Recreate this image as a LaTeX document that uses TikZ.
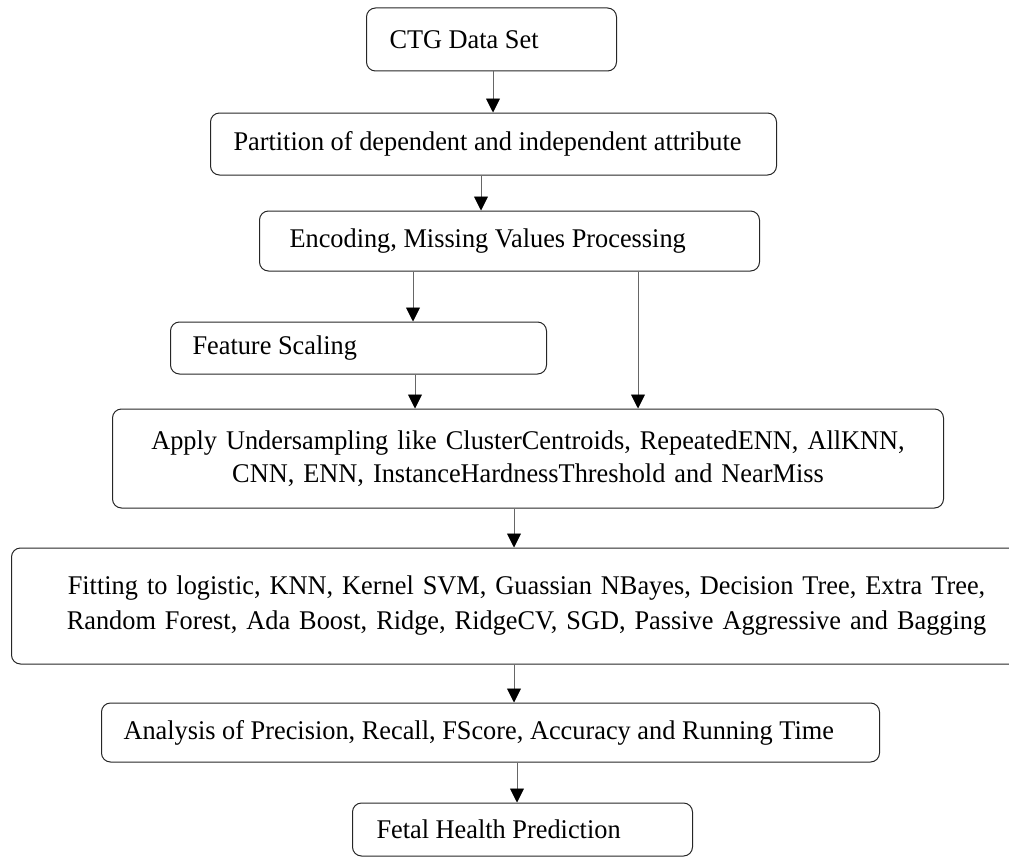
\documentclass[tikz,border=0pt]{standalone}
\usepackage{fontspec}
\setmainfont{Liberation Serif}[FakeStretch=0.975]
\usetikzlibrary{arrows.meta}

\newcommand{\linetext}[2]{\makebox[#1][l]{#2}}

\tikzset{
  stage/.style={draw=black!85, line width=1pt, rounded corners=9pt, anchor=west,
    inner ysep=0pt, align=left, font=\fontsize{27}{33}\selectfont},
  flow/.style={draw=black!60, line width=0.9pt,
    -{Triangle[width=14pt,length=14pt,color=black]}}
}

\begin{document}
\begin{tikzpicture}[x=1pt,y=-1pt]
\useasboundingbox (0,0) rectangle (1009,859);
\clip (0,0) rectangle (1009,859);
% steps
\node[stage, inner xsep=23pt, minimum height=63pt] (ctg) at (366,39.5) {\linetext{204pt}{CTG Data Set}};
\node[stage, inner xsep=23pt, minimum height=62pt] (part) at (210,144) {\linetext{520pt}{Partition of dependent and independent attribute}};
\node[stage, inner xsep=30pt, minimum height=60pt] (enc) at (259,241) {\linetext{440pt}{Encoding, Missing Values Processing}};
\node[stage, inner xsep=22pt, minimum height=52pt] (feat) at (170,348) {\linetext{332pt}{Feature Scaling}};
\node[stage, inner xsep=10pt, text width=811pt, minimum height=99pt, align=center] (under) at (112,458.5) {Apply Undersampling like ClusterCentroids, RepeatedENN, AllKNN,\\ CNN, ENN, InstanceHardnessThreshold and NearMiss};
\node[stage, inner xsep=10pt, text width=1010pt, minimum height=116pt, align=center, font=\fontsize{27}{35}\selectfont] (fit) at (11,606) {Fitting to logistic, KNN, Kernel SVM, Guassian NBayes, Decision Tree, Extra Tree,\\ Random Forest, Ada Boost, Ridge, RidgeCV, SGD, Passive Aggressive and Bagging};
\node[stage, inner xsep=22pt, minimum height=59pt] (ana) at (101,732.5) {\linetext{734pt}{Analysis of Precision, Recall, FScore, Accuracy and Running Time}};
\node[stage, inner xsep=24pt, minimum height=53pt] (pred) at (352,829.5) {\linetext{292pt}{Fetal Health Prediction}};
% arrows
\draw[flow] (ctg.south -| 493,0) -- (part.north -| 493,0);
\draw[flow] (part.south -| 481,0) -- (enc.north -| 481,0);
\draw[flow] (enc.south -| 413,0) -- (feat.north -| 413,0);
\draw[flow] (enc.south -| 638,0) -- (under.north -| 638,0);
\draw[flow] (feat.south -| 415,0) -- (under.north -| 415,0);
\draw[flow] (under.south -| 514,0) -- (fit.north -| 514,0);
\draw[flow] (fit.south -| 514,0) -- (ana.north -| 514,0);
\draw[flow] (ana.south -| 517,0) -- (pred.north -| 517,0);
\end{tikzpicture}
\end{document}
